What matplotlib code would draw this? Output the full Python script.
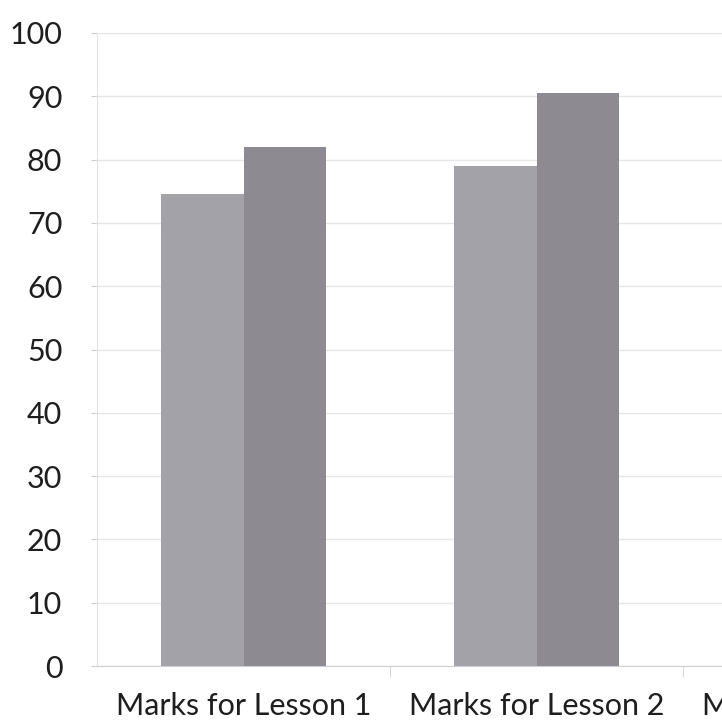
import numpy as np
import matplotlib
matplotlib.use("Agg")
import matplotlib.pyplot as plt

categories = ["Marks for Lesson 1", "Marks for Lesson 2", "Marks for Lesson 3"]
series_a = [74.5, 79.0, np.nan]   # third group is cut off in the picture
series_b = [82.0, 90.5, np.nan]
y_ticks = [0, 10, 20, 30, 40, 50, 60, 70, 80, 90, 100]

plt.rcParams["font.family"] = ["Lato", "DejaVu Sans"]

W, H = 722, 727
fig = plt.figure(figsize=(W / 100, H / 100), dpi=100)
# axes runs past the right edge, like the cropped scan
ax = fig.add_axes([97 / W, 61 / H, 879 / W, 633 / H])

x = np.arange(len(categories))
bw = 0.283
ax.bar(x - bw / 2, series_a, bw, color="#a3a2a9", edgecolor="none", zorder=2)
ax.bar(x + bw / 2, series_b, bw, color="#8d8a91", edgecolor="none", zorder=2)

ax.set_xlim(-0.5, len(categories) - 0.5)
ax.set_ylim(0, 100)
ax.set_yticks(y_ticks)
ax.set_yticklabels([str(t) for t in y_ticks], fontsize=22, color="#1e1e1e")
ax.set_xticks(x)
ax.set_xticklabels(categories, fontsize=22, color="#1e1e1e")
ax.set_xticks(x[:-1] + 0.5, minor=True)

ax.grid(axis="y", color="#e6e6e6", linewidth=1.0, zorder=0)
for s in ["top", "right"]:
    ax.spines[s].set_visible(False)
ax.spines["left"].set_color("#e2e2e2")
ax.spines["bottom"].set_color("#cfcfcf")
ax.tick_params(axis="y", length=4, color="#cfcfcf", pad=21)
ax.tick_params(axis="x", which="major", length=0, pad=19)
ax.tick_params(axis="x", which="minor", length=8, color="#d0d0d0")

fig.savefig("out.png", dpi=100, facecolor="white")
